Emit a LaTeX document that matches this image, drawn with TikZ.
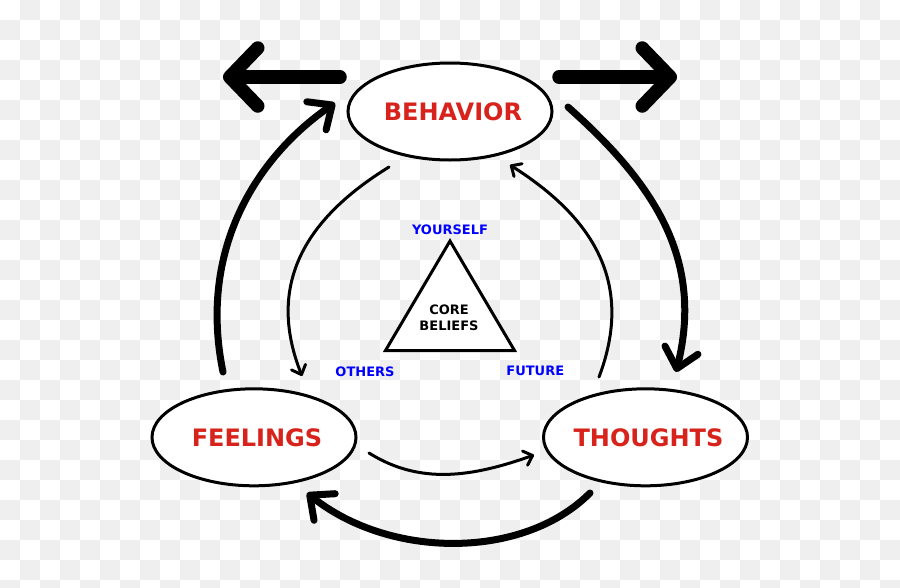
\documentclass[tikz,border=0pt]{standalone}
\usepackage{fontspec}
\setmainfont{DejaVu Sans}
\usetikzlibrary{arrows.meta,shapes.geometric}
\definecolor{labred}{RGB}{215,35,28}
\definecolor{labblue}{RGB}{0,0,255}
\definecolor{checkgray}{RGB}{239,239,239}
\newcommand{\statetext}[1]{\makebox[0pt]{\hspace{6pt}#1}}
\begin{document}
\begin{tikzpicture}[x=1pt,y=-1pt,
  state/.style={ellipse, draw, line width=3pt, fill=white, minimum width=204pt, minimum height=97pt, inner sep=0pt, text=labred, font=\fontsize{24}{28}\selectfont\bfseries},
  smalllabel/.style={text=labblue, inner sep=0pt, font=\fontsize{13}{16}\selectfont\bfseries},
  corelabel/.style={align=center, inner sep=0pt, font=\fontsize{13}{16}\selectfont\bfseries},
  tri/.style={draw, line width=3pt, fill=white, line join=miter},
  bigarrow/.style={line width=13.5pt, line cap=round, -{Straight Barb[length=28pt,width=58pt,round]}},
  thickarrow/.style={line width=7pt, line cap=round, -{Straight Barb[length=19pt,width=34pt,round]}},
  thinarrow/.style={line width=3pt, line cap=round, -{Straight Barb[length=8pt,width=15pt,round]}}
]
\useasboundingbox (0,0) rectangle (900,587);
\clip (0,0) rectangle (900,587);
% checkerboard background
\fill[white] (0,0) rectangle (900,587);
\foreach \i in {0,...,44}{
  \foreach \j in {0,...,29}{
    \pgfmathtruncatemacro{\parity}{mod(\i+\j,2)}
    \ifnum\parity=1
      \fill[checkgray] (20*\i,20*\j) rectangle ++(20,20);
    \fi
  }
}
% main nodes
\node[state] (behavior) at (450,111.5) {\statetext{BEHAVIOR}};
\node[state] (feelings) at (254,437.3) {\statetext{FEELINGS}};
\node[state] (thoughts) at (645.5,437.3) {\statetext{THOUGHTS}};
% core triangle
\coordinate (tA) at (450,241);
\coordinate (tB) at (385.5,350.5);
\coordinate (tC) at (514.5,350.5);
\draw[tri] (tA) -- (tB) -- (tC) -- cycle;
\node[corelabel] (core) at (449,318) {CORE\\BELIEFS};
\node[smalllabel] (yourself) at (450,229.3) {YOURSELF};
\node[smalllabel] (others) at (365,371.3) {OTHERS};
\node[smalllabel] (future) at (535.3,371.3) {FUTURE};
% big straight arrows from behavior
\coordinate (lstart) at (340,77);
\coordinate (ltip) at (223,77);
\coordinate (rstart) at (559,77);
\coordinate (rtip) at (677,77);
\draw[bigarrow] (lstart) -- (ltip);
\draw[bigarrow] (rstart) -- (rtip);
% thick cycle arrows
\coordinate (fbS) at (223,372);
\coordinate (fbE) at (335,103);
\draw[thickarrow] (fbS) .. controls (197,245) and (261,154) .. (fbE);
\coordinate (btS) at (568,107);
\coordinate (btE) at (676,372);
\draw[thickarrow] (btS) .. controls (650,180) and (705,256) .. (btE);
\coordinate (tfS) at (590,493);
\coordinate (tfE) at (307,493);
\draw[thickarrow] (tfS) .. controls (523,560) and (390,559) .. (tfE);
% thin arrows
\coordinate (ftS) at (369,453);
\coordinate (ftE) at (534,455);
\draw[thinarrow] (ftS) .. controls (420,485) and (472,477) .. (ftE);
\coordinate (bfS) at (389,167);
\coordinate (bfE) at (302,376);
\draw[thinarrow] (bfS) .. controls (308,217) and (265,282) .. (bfE);
\coordinate (tbS) at (599,377);
\coordinate (tbE) at (510,165);
\draw[thinarrow] (tbS) .. controls (635,282) and (592,217) .. (tbE);
\end{tikzpicture}
\end{document}
